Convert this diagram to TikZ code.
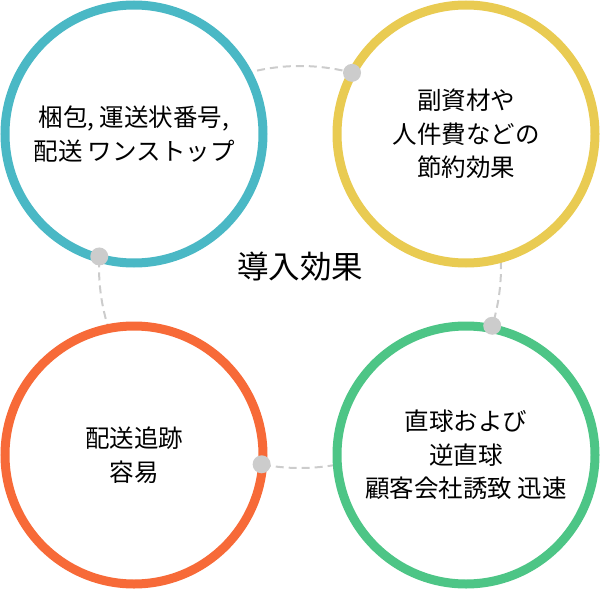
\documentclass[tikz,border=0pt]{standalone}
\usepackage{fontspec}
\setmainfont{Noto Sans CJK JP}
\usepackage{tikz}
\definecolor{ringteal}{RGB}{74,184,197}
\definecolor{ringyellow}{RGB}{233,203,82}
\definecolor{ringgreen}{RGB}{77,197,134}
\definecolor{ringorange}{RGB}{247,106,56}
\definecolor{dotgray}{RGB}{204,204,204}
\tikzset{
	effect/.style   = {draw, circle, fill = white, line width = 9pt,
		minimum size = 258pt, inner sep = 0pt, align = center,
		font = \fontsize{24.5}{33.5}\selectfont},
	joint/.style    = {circle, fill = dotgray, minimum size = 18pt, inner sep = 0pt},
	ring/.style     = {draw = dotgray, line width = 2pt, dash pattern = on 8pt off 5pt},
	title/.style    = {font = \fontsize{31.5}{36}\selectfont}
}

\begin{document}
\begin{tikzpicture}[x=1pt, y=-1pt]
	\useasboundingbox (0,0) rectangle (600,589);
	\coordinate (c) at (300,267);
	\draw[ring] (c) circle (201pt);

	\draw
	node at (134,134) [effect, draw = ringteal] (e1) {梱包, 運送状番号,\\配送 ワンストップ}
	node at (466,134) [effect, draw = ringyellow] (e2) {副資材や\\人件費などの\\節約効果}
	node at (466,455) [effect, draw = ringgreen] (e3) {直球および\\逆直球\\顧客会社誘致 迅速}
	node at (134,455) [effect, draw = ringorange] (e4) {配送追跡\\容易};

	% joints on the dashed ring
	\path (c) ++(183:201) node[joint] (j1) {};
	\path (c) ++(285:201) node[joint] (j2) {};
	\path (c) ++(17:201) node[joint] (j3) {};
	\path (c) ++(101:201) node[joint] (j4) {};

	\node[title] (t) at (c) {導入効果};
\end{tikzpicture}
\end{document}
